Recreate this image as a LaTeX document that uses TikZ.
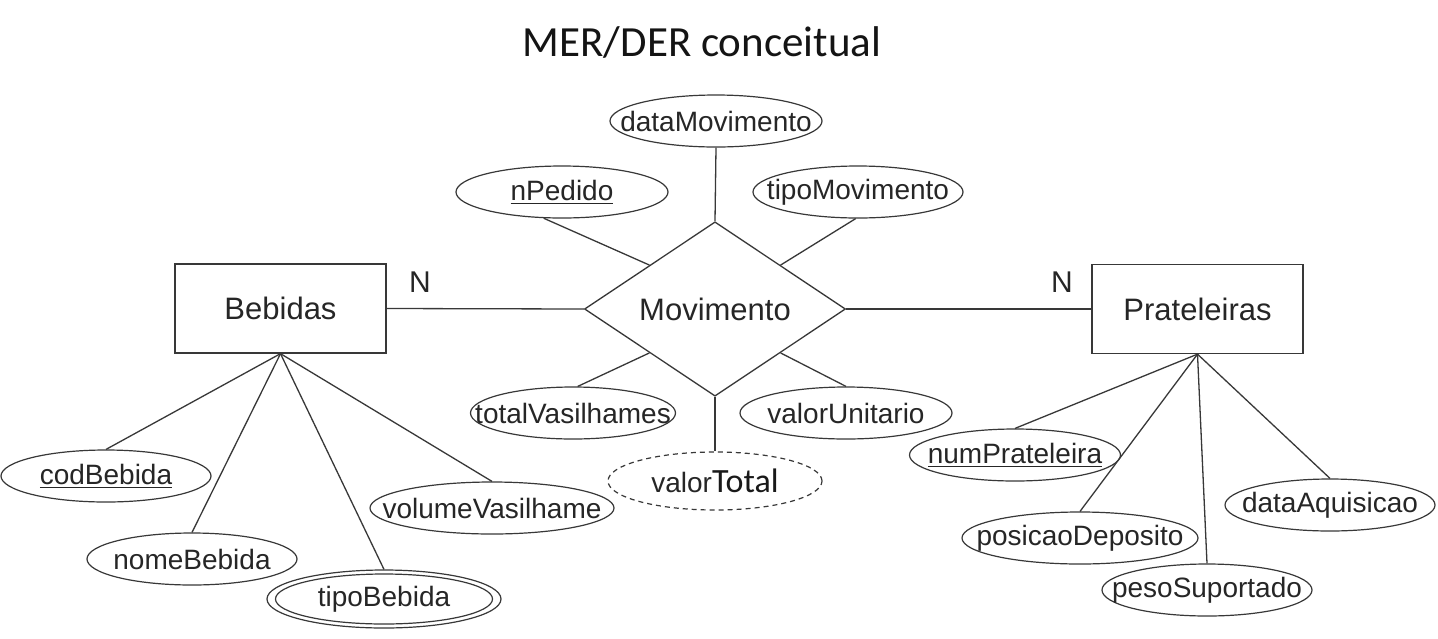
\documentclass[tikz,border=0pt]{standalone}
\usepackage{fontspec}
\setmainfont{Liberation Sans}
\newfontfamily\calib{Carlito}
\usetikzlibrary{shapes.geometric}
\definecolor{ln}{HTML}{383838}
\definecolor{tx}{HTML}{262626}
\newcommand\ulx[1]{\setbox0\hbox{#1}\leavevmode\rlap{\rule[-3.5pt]{\wd0}{1.3pt}}\box0}
\begin{document}
\begin{tikzpicture}[x=1pt,y=-1pt,
  ent/.style={draw=ln, line width=1.3pt, rectangle, minimum width=211pt, minimum height=89pt, inner sep=0pt, font=\fontsize{31}{31}\selectfont, text=tx},
  rel/.style={draw=ln, line width=1.3pt, diamond, minimum width=261pt, minimum height=138pt, inner sep=0pt, font=\fontsize{31}{31}\selectfont, text=tx},
  attr/.style={draw=ln, line width=1.2pt, ellipse, minimum height=52pt, inner sep=0pt},
  atxt/.style={inner sep=0pt, font=\fontsize{28}{28}\selectfont, text=tx},
  conn/.style={draw=ln, line width=1.3pt},
  card/.style={inner sep=0pt, font=\fontsize{30}{30}\selectfont, text=tx}
]
\useasboundingbox (0,0) rectangle (1438,638);
\fill[white] (0,0) rectangle (1438,638);

\node[anchor=base, inner sep=0pt, font=\calib\fontsize{43}{43}\selectfont, text=black!92] (title) at (702,56) {MER/DER conceitual};

% entities and relationship
\node[ent] (beb) at (280.5,308.5) {Bebidas};
\node[ent] (pra) at (1197.5,309) {Prateleiras};
\node[rel] (mov) at (715,309) {Movimento};
\node[card] (n1) at (420,282) {N};
\node[card] (n2) at (1062,282) {N};

% Movimento attributes
\node[attr, minimum width=212pt] (dmov) at (716,121) {};
\node[atxt] (dmovt) at (dmov) {dataMovimento};
\node[attr, minimum width=212pt] (nped) at (562,192) {};
\node[atxt] (npedt) at (nped) {\ulx{nPedido}};
\node[attr, minimum width=210pt] (tmov) at (858,192) {};
\node[atxt] (tmovt) at (tmov) {tipoMovimento};
\node[attr, minimum width=205pt] (tvas) at (573,413) {};
\node[atxt] (tvast) at (tvas) {totalVasilhames};
\node[attr, minimum width=212pt] (vuni) at (846,413) {};
\node[atxt] (vunit) at (vuni) {valorUnitario};
\node[attr, dashed, dash pattern=on 5pt off 4pt, minimum width=214pt, minimum height=58pt] (vtot) at (715,481) {};
\node[atxt] (vtott) at (vtot) {valor{\calib\fontsize{34}{34}\selectfont\color{black!90}Total}};

% Bebidas attributes
\node[attr, minimum width=210pt] (cod) at (106,476) {};
\node[atxt] (codt) at (cod) {\ulx{codBebida}};
\node[attr, minimum width=210pt] (nome) at (192,559) {};
\node[atxt] (nomet) at (nome) {nomeBebida};
\node[attr, minimum width=234pt, minimum height=58pt] (tipo) at (384,599) {};
\node[attr, minimum width=217pt, minimum height=50pt] (tipoin) at (384,599) {};
\node[atxt] (tipot) at (tipo) {tipoBebida};
\node[attr, minimum width=244pt] (vol) at (492,508) {};
\node[atxt] (volt) at (vol) {volumeVasilhame};

% Prateleiras attributes
\node[attr, minimum width=211pt] (nump) at (1015,455) {};
\node[atxt] (numpt) at (nump) {\ulx{numPrateleira}};
\node[attr, minimum width=236pt] (pos) at (1080,538) {};
\node[atxt] (post) at (pos) {posicaoDeposito};
\node[attr, minimum width=210pt] (peso) at (1207,590) {};
\node[atxt] (pesot) at (peso) {pesoSuportado};
\node[attr, minimum width=210pt] (daq) at (1330,505) {};
\node[atxt] (daqt) at (daq) {dataAquisicao};

% connectors
\draw[conn] (beb.east) -- (mov.west);
\draw[conn] (mov.east) -- (pra.west);
\draw[conn] (dmov.south) -- (mov.north);
\draw[conn] (nped.-125) -- (mov.north west);
\draw[conn] (tmov.-95) -- (mov.north east);
\draw[conn] (tvas.80) -- (mov.south west);
\draw[conn] (vuni.north) -- (mov.south east);
\draw[conn] (vtot.north) -- (mov.south);
\draw[conn] (beb.south) -- (cod.north);
\draw[conn] (beb.south) -- (nome.north);
\draw[conn] (beb.south) -- (tipo.north);
\draw[conn] (beb.south) -- (vol.north);
\draw[conn] (pra.south) -- (nump.north);
\draw[conn] (pra.south) -- (pos.north);
\draw[conn] (pra.south) -- (peso.north);
\draw[conn] (pra.south) -- (daq.north);
\end{tikzpicture}
\end{document}
